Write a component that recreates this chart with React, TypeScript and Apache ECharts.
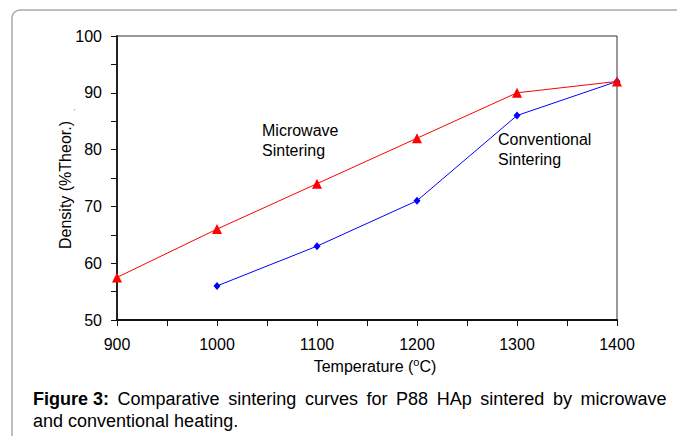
import React, { useEffect, useRef } from "react";
import * as echarts from "echarts";

const temperatures = [900, 1000, 1100, 1200, 1300, 1400];
const microwave = [57.5, 66, 74, 82, 90, 92];
const conventional = [null, 56, 63, 71, 86, 92];
const xTicks = [900, 1000, 1100, 1200, 1300, 1400];
const yTicks = [50, 60, 70, 80, 90, 100];
const captionLine1Words = ["Comparative", "sintering", "curves", "for", "P88", "HAp", "sintered", "by", "microwave"];
const captionLine2 = "and conventional heating.";

const FONT = "Liberation Sans, Arial, sans-serif";

export default function App() {
  const ref = useRef<HTMLDivElement>(null);
  useEffect(() => {
    document.body.style.margin = "0";
    const chart = echarts.init(ref.current!, null, { renderer: "svg" });
    const mwData = temperatures.map((t, i) => [t, microwave[i]]);
    const cvData = temperatures
      .map((t, i) => [t, conventional[i]])
      .filter((d) => d[1] !== null);
    const line1 = "{b|Figure 3:}{sp| }" + captionLine1Words.map((w) => `{r|${w}}`).join("{sp| }");
    chart.setOption({
      animation: false,
      backgroundColor: "#fff",
      textStyle: { fontFamily: FONT },
      grid: {
        left: 117,
        top: 36,
        right: 60,
        bottom: 116,
        show: true,
        borderColor: "#333",
        borderWidth: 1,
      },
      xAxis: {
        type: "value",
        min: 900,
        max: 1400,
        interval: 50,
        axisLine: { show: true, lineStyle: { color: "#111", width: 2 } },
        axisTick: { show: true, length: 6, lineStyle: { color: "#111", width: 1 } },
        axisLabel: {
          margin: 16,
          fontSize: 16,
          color: "#000",
          fontFamily: FONT,
          formatter: (v: number) => (xTicks.includes(v) ? String(v) : ""),
        },
        splitLine: { show: false },
      },
      yAxis: {
        type: "value",
        min: 50,
        max: 100,
        interval: 5,
        axisLine: { show: true, lineStyle: { color: "#222", width: 2 } },
        axisTick: { show: true, length: 6, lineStyle: { color: "#111", width: 1 } },
        axisLabel: {
          margin: 15,
          fontSize: 16,
          color: "#000",
          fontFamily: FONT,
          formatter: (v: number) => (yTicks.includes(v) ? String(v) : ""),
        },
        splitLine: { show: false },
      },
      series: [
        {
          name: "Microwave Sintering",
          type: "line",
          data: mwData,
          symbol: "triangle",
          symbolSize: 10,
          lineStyle: { color: "#ff0000", width: 1 },
          itemStyle: { color: "#ff0000" },
          z: 3,
        },
        {
          name: "Conventional Sintering",
          type: "line",
          data: cvData,
          symbol: "diamond",
          symbolSize: [7, 8],
          lineStyle: { color: "#0000ff", width: 1 },
          itemStyle: { color: "#0000ff" },
          z: 2,
        },
      ],
      graphic: [
        {
          type: "rect",
          shape: { x: 12, y: 10, width: 700, height: 460, r: 8 },
          style: { fill: "none", stroke: "#aaa", lineWidth: 1.5 },
          silent: true,
          z: -1,
        },
        {
          type: "text",
          x: 262,
          y: 120,
          style: {
            text: "Microwave\nSintering",
            font: `16px ${FONT}`,
            fill: "#000",
            lineHeight: 20,
            textVerticalAlign: "top",
          },
        },
        {
          type: "text",
          x: 498,
          y: 129,
          style: {
            text: "Conventional\nSintering",
            font: `16px ${FONT}`,
            fill: "#000",
            lineHeight: 20,
            textVerticalAlign: "top",
          },
        },
        {
          type: "text",
          x: 65,
          y: 185,
          rotation: Math.PI / 2,
          style: {
            text: "Density (%Theor.)",
            font: `16px ${FONT}`,
            fill: "#000",
            align: "center",
            verticalAlign: "middle",
          },
        },
        {
          type: "text",
          x: 72,
          y: 110,
          rotation: Math.PI / 2,
          style: {
            text: ".",
            font: `8px ${FONT}`,
            fill: "#000",
            align: "center",
            verticalAlign: "middle",
          },
        },
        {
          type: "text",
          x: 375,
          y: 366,
          style: {
            text: "Temperature ({sup|o}C)",
            font: `16px ${FONT}`,
            fill: "#000",
            align: "center",
            verticalAlign: "middle",
            rich: {
              sup: { fontSize: 11, fontFamily: FONT, padding: [0, 0, 8, 0], fill: "#000" },
            },
          },
        },
        {
          type: "text",
          x: 33,
          y: 388,
          style: {
            text: line1,
            font: `18px ${FONT}`,
            fill: "#000",
            lineHeight: 22,
            verticalAlign: "top",
            rich: {
              b: { fontWeight: "bold", fontSize: 18, fontFamily: FONT, fill: "#000", lineHeight: 22 },
              r: { fontSize: 18, fontFamily: FONT, fill: "#000", lineHeight: 22 },
              sp: { fontSize: 18, fontFamily: FONT, fill: "#000", lineHeight: 22, width: 8.6 },
            },
          },
        },
        {
          type: "text",
          x: 33,
          y: 410,
          style: {
            text: captionLine2,
            font: `18px ${FONT}`,
            fill: "#000",
            lineHeight: 22,
            verticalAlign: "top",
          },
        },
      ],
    });
    return () => chart.dispose();
  }, []);
  return <div ref={ref} style={{ width: 677, height: 436 }} />;
}
